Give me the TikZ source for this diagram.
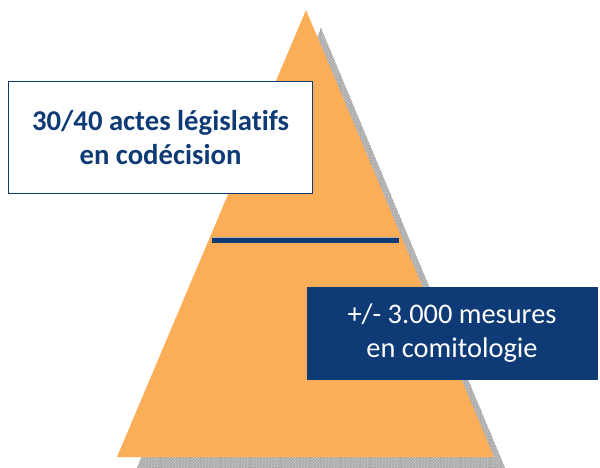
\documentclass[tikz,border=0pt]{standalone}
\usepackage{fontspec}
\setmainfont[Ligatures=NoCommon]{Carlito}
\usetikzlibrary{positioning,patterns}
\definecolor{pyrorange}{HTML}{FBAD57}
\definecolor{pyrnavy}{HTML}{0E3A75}
\tikzset{
  lawbox/.style={draw=pyrnavy,line width=1.5pt,fill=white,text=pyrnavy,font=\bfseries\fontsize{28.7}{34}\selectfont,align=center,inner sep=0pt},
  comitbox/.style={fill=pyrnavy,text=white,font=\fontsize{28.4}{34}\selectfont,align=center,inner sep=0pt}
}
\begin{document}
\begin{tikzpicture}[x=1pt,y=-1pt]
            \useasboundingbox (0,0) rectangle (600,467);
            % shadow
            \begin{scope}
            \clip (0,0) rectangle (600,467);
            \fill[gray!45] (321,28) -- (508,475) -- (134,475) -- cycle;
            \fill[pattern=crosshatch,pattern color=gray!70] (321,28) -- (508,475) -- (134,475) -- cycle;
            \clip (321,28) -- (508,475) -- (134,475) -- cycle;
            \draw[gray!65,line width=0.6pt] (131,8) grid[step=10] (511,478);
            \end{scope}
            % pyramid
            \fill[pyrorange] (306,10) coordinate (apex) -- (494,457) coordinate (baseR) -- (117,457) coordinate (baseL) -- cycle;
            \coordinate (cutL) at (212,240);
            \coordinate (cutR) at (399,240);
            \draw[gray!60,line width=6.5pt] (cutL) -- (cutR);
            \draw[pyrnavy,line width=5pt] (cutL) -- (cutR);
            % labels
            \node[lawbox,minimum width=304,minimum height=112] (codec) at (160.5,137.5) {30/40 actes législatifs\\en codécision};
            \node[comitbox,minimum width=291,minimum height=93] (comit) at (452,333.5) {+/- 3.000 mesures\\en comitologie};
        \end{tikzpicture}
\end{document}
